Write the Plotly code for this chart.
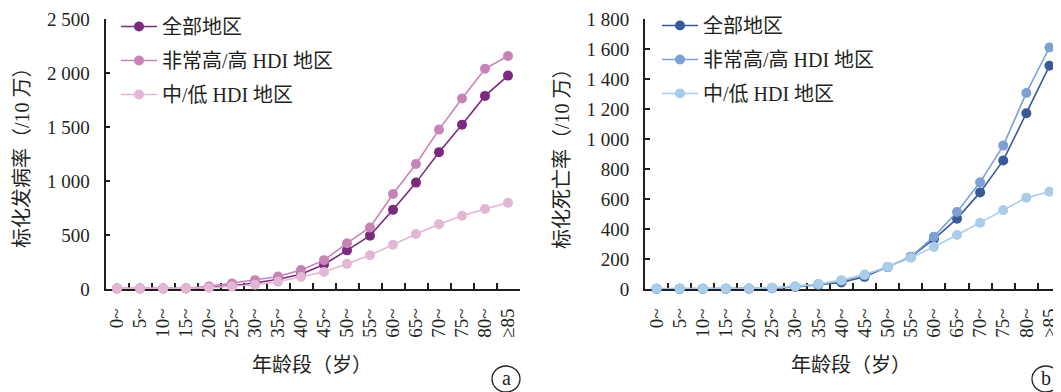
import plotly.graph_objects as go

ages = ["0~", "5~", "10~", "15~", "20~", "25~", "30~", "35~", "40~", "45~",
        "50~", "55~", "60~", "65~", "70~", "75~", "80~", "≥85"]

series_names = ["全部地区", "非常高/高 HDI 地区", "中/低 HDI 地区"]

# incidence (panel a)
inc_all = [5, 4, 4, 5, 16, 30, 55, 91, 136, 227, 358, 494, 733, 985, 1267, 1521, 1788, 1976]
inc_high = [6, 5, 5, 7, 24, 52, 82, 115, 176, 267, 424, 570, 879, 1158, 1476, 1764, 2039, 2158]
inc_low = [6, 5, 5, 6, 12, 24, 39, 67, 112, 158, 233, 312, 409, 509, 600, 679, 740, 798]

# mortality (panel b)
mor_all = [1, 1, 1, 1, 2, 5, 13, 26, 44, 81, 146, 214, 332, 469, 644, 857, 1172, 1488]
mor_high = [1, 1, 1, 1, 3, 7, 17, 31, 55, 92, 146, 214, 349, 513, 711, 956, 1307, 1610]
mor_low = [2, 2, 2, 2, 4, 9, 17, 33, 59, 96, 148, 209, 281, 360, 441, 526, 609, 648]

colors_a = ["#7B2A80", "#C684B6", "#E2B7D3"]
colors_b = ["#385B98", "#7E9FD4", "#A9CDE8"]

FONT = "Liberation Serif, 'Noto Sans CJK SC', serif"
INK = "#231F20"

# page offset (body margin) and figure size
OX, OY = 8, 8
W, H = 1061 - OX, 392 - OY


def px(x):
    return (x - OX) / W


def py(y):
    return 1 - (y - OY) / H


fig = go.Figure()

for i, (vals, name) in enumerate(zip([inc_all, inc_high, inc_low], series_names)):
    fig.add_trace(go.Scatter(
        x=ages, y=vals, name=name, mode="lines+markers",
        line=dict(color=colors_a[i], width=1.6),
        marker=dict(color=colors_a[i], size=10),
        xaxis="x", yaxis="y", legend="legend", legendgroup=f"a{i}",
        cliponaxis=False,
    ))

for i, (vals, name) in enumerate(zip([mor_all, mor_high, mor_low], series_names)):
    fig.add_trace(go.Scatter(
        x=ages, y=vals, name=name, mode="lines+markers",
        line=dict(color=colors_b[i], width=1.6),
        marker=dict(color=colors_b[i], size=10),
        xaxis="x2", yaxis="y2", legend="legend2", legendgroup=f"b{i}",
        cliponaxis=False,
    ))

ybot, ytop = py(289), py(19)

xcommon = dict(
    type="category", range=[-0.5, 17.5], showline=True, linecolor=INK, linewidth=1.8,
    ticks="inside", tickson="boundaries", ticklen=6, tickwidth=1.5, tickcolor=INK,
    tickangle=-90, tickfont=dict(family=FONT, size=19, color=INK),
    showgrid=False, zeroline=False, layer="below traces", ticklabelstandoff=10,
    automargin=False, ticklabeloverflow="allow",
)
ycommon = dict(
    showline=True, linecolor=INK, linewidth=1.8, ticks="inside", ticklen=5,
    tickwidth=1.5, tickcolor=INK, tickfont=dict(family=FONT, size=19, color=INK),
    showgrid=False, zeroline=False, separatethousands=True, tickformat=",d",
    layer="below traces", ticklabelstandoff=10, automargin=False,
    ticklabeloverflow="allow",
)

legcommon = dict(
    font=dict(family=FONT, size=20, color=INK), bgcolor="rgba(0,0,0,0)",
    traceorder="grouped", tracegroupgap=5, xanchor="left", yanchor="top",
    itemwidth=36,
)

ann_font = dict(family=FONT, size=20, color=INK)


def ann(text, x, y, angle=0):
    return dict(text=text, x=px(x), y=py(y), xref="paper", yref="paper",
                xanchor="center", yanchor="middle", textangle=angle,
                showarrow=False, font=ann_font)


fig.update_layout(
    width=W, height=H, autosize=False,
    margin=dict(l=0, r=0, t=0, b=0, autoexpand=False),
    paper_bgcolor="white", plot_bgcolor="white",
    separators=". ",
    showlegend=True,
    xaxis=dict(domain=[px(105.5), px(519.5)], anchor="y", **xcommon),
    yaxis=dict(domain=[ybot, ytop], anchor="x", range=[0, 2500], dtick=500, **ycommon),
    xaxis2=dict(domain=[px(645), 1.0], anchor="y2", **xcommon),
    yaxis2=dict(domain=[ybot, ytop], anchor="x2", range=[0, 1800], dtick=200, **ycommon),
    legend=dict(x=px(116), y=py(7), **legcommon),
    legend2=dict(x=px(657), y=py(6), **legcommon),
    annotations=[
        ann("标化发病率（/10 万）", 22, 153, -90),
        ann("标化死亡率（/10 万）", 562, 154, -90),
        ann("年龄段（岁）", 312, 365),
        ann("年龄段（岁）", 851, 365),
        ann("a", 506, 378),
        ann("b", 1046, 378),
    ],
    shapes=[
        dict(type="circle", xref="paper", yref="paper",
             x0=px(506 - 14), x1=px(506 + 14), y0=py(379 + 13), y1=py(379 - 13),
             line=dict(color=INK, width=1.3)),
        dict(type="circle", xref="paper", yref="paper",
             x0=px(1046 - 14), x1=px(1046 + 14), y0=py(379 + 13), y1=py(379 - 13),
             line=dict(color=INK, width=1.3)),
    ],
)

fig.write_html("out.html")
